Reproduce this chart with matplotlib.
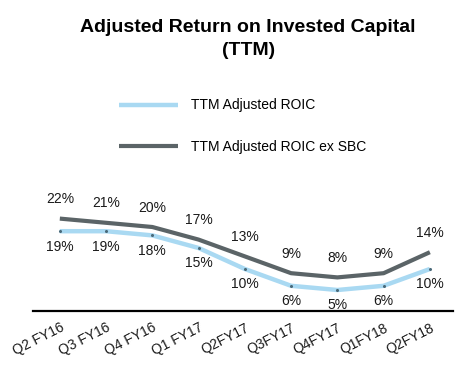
import matplotlib.pyplot as plt
import numpy as np

plt.rcParams['font.family'] = ['Liberation Sans', 'DejaVu Sans']

quarters = ['Q2 FY16', 'Q3 FY16', 'Q4 FY16', 'Q1 FY17', 'Q2FY17',
            'Q3FY17', 'Q4FY17', 'Q1FY18', 'Q2FY18']
roic = [19, 19, 18, 15, 10, 6, 5, 6, 10]
roic_ex_sbc = [22, 21, 20, 17, 13, 9, 8, 9, 14]

light = '#a9d9f2'
dark = '#5b6467'

fig = plt.figure(figsize=(4.7, 3.73), dpi=100)
ax = fig.add_axes([33/470, 1 - 311/373, 420/470, 105/373])

x = np.arange(len(quarters))
ax.plot(x, roic, color=light, lw=3.2, label='TTM Adjusted ROIC',
        solid_capstyle='butt', zorder=2)
ax.plot(x, roic, ls='none', marker='o', ms=1.2, color='#4a6a7a', zorder=3)
ax.plot(x, roic_ex_sbc, color=dark, lw=3.0, label='TTM Adjusted ROIC ex SBC',
        solid_capstyle='butt', zorder=2)

# value labels: dark above, light below
for xi, v in zip(x, roic_ex_sbc):
    ax.annotate(f'{v}%', (xi, v), xytext=(0, 9), textcoords='offset points',
                ha='center', va='bottom', fontsize=10, color='#1a1a1a')
for xi, v in zip(x, roic):
    ax.annotate(f'{v}%', (xi, v), xytext=(0, -6), textcoords='offset points',
                ha='center', va='top', fontsize=10, color='#1a1a1a')

ax.set_xlim(-0.58, 8.5)
ax.set_ylim(0, 25)
for s in ['top', 'right', 'left']:
    ax.spines[s].set_visible(False)
ax.spines['bottom'].set_linewidth(1.6)
ax.set_yticks([])
ax.set_xticks(x)
ax.set_xticklabels(quarters, rotation=27, ha='right', rotation_mode='anchor',
                   fontsize=10, color='#1a1a1a')
ax.tick_params(axis='x', length=0, pad=7)

fig.text(0.528, 0.895, 'Adjusted Return on Invested Capital\n(TTM)',
         ha='center', va='center', fontsize=14, fontweight='bold',
         linespacing=1.45)

fig.legend(loc='upper left', bbox_to_anchor=(106/470, 1 - 86/373),
           frameon=False, fontsize=10, handlelength=4.3, handletextpad=0.9,
           labelspacing=1.95)

fig.savefig('out.png', dpi=100, facecolor='white')
